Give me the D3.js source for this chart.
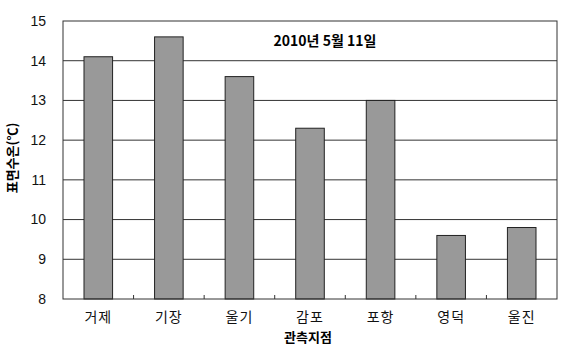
<!DOCTYPE html>
<html>
<head>
<meta charset="utf-8">
<script src="https://d3js.org/d3.v7.min.js"></script>
<style>
  body { margin: 0; background: #fff; }
  text { font-family: "Liberation Sans", "Noto Sans CJK KR", sans-serif; }
  .kr { font-family: "Noto Sans CJK KR", sans-serif; }
</style>
</head>
<body>
<div id="chart"></div>
<script>
// data
const stations = ["거제", "기장", "울기", "감포", "포항", "영덕", "울진"];
const sst = [14.1, 14.6, 13.6, 12.3, 13.0, 9.6, 9.8];
const yTicks = [8, 9, 10, 11, 12, 13, 14, 15];

const W = 567, H = 358;
const margin = {top: 21, right: 10, bottom: 59, left: 63};
const width = W - margin.left - margin.right,
      height = H - margin.top - margin.bottom;

const svg = d3.select("#chart").append("svg")
    .attr("width", W).attr("height", H);

const g = svg.append("g")
    .attr("transform", `translate(${margin.left},${margin.top})`);

const x = d3.scaleBand().domain(stations).range([0, width]).paddingInner(0.595).paddingOuter(0.2975);
const xOuter = d3.scaleBand().domain(stations).range([0, width]);
const y = d3.scaleLinear().domain([8, 15]).range([height, 0]);

// gridlines
g.selectAll(".grid").data(yTicks.slice(1, -1)).join("line")
    .attr("x1", 0).attr("x2", width)
    .attr("y1", d => y(d)).attr("y2", d => y(d))
    .attr("stroke", "#333").attr("stroke-width", 1);

// bars
g.selectAll(".bar").data(stations).join("rect")
    .attr("x", d => x(d))
    .attr("width", x.bandwidth())
    .attr("y", (d, i) => y(sst[i]))
    .attr("height", (d, i) => height - y(sst[i]))
    .attr("fill", "#999999")
    .attr("stroke", "#222").attr("stroke-width", 1);

// frame
g.append("rect").attr("width", width).attr("height", height)
    .attr("fill", "none").attr("stroke", "#333").attr("stroke-width", 1);

// x tick marks between categories (inside)
g.selectAll(".xt").data(stations.slice(1)).join("line")
    .attr("x1", d => xOuter(d)).attr("x2", d => xOuter(d))
    .attr("y1", height).attr("y2", height - 4)
    .attr("stroke", "#333");

// y labels
g.selectAll(".yl").data(yTicks).join("text")
    .attr("x", -17).attr("y", d => y(d)).attr("dy", "0.35em")
    .attr("text-anchor", "end").attr("font-size", 14)
    .attr("fill", "#111")
    .text(d => d);

// x labels
g.selectAll(".xl").data(stations).join("text")
    .attr("class", "kr")
    .attr("x", d => xOuter(d) + xOuter.bandwidth() / 2)
    .attr("y", height + 23)
    .attr("text-anchor", "middle").attr("font-size", 14)
    .attr("letter-spacing", 1)
    .attr("fill", "#111")
    .text(d => d);

// axis titles
g.append("text").attr("class", "kr")
    .attr("x", width / 2 - 2).attr("y", height + 43)
    .attr("text-anchor", "middle").attr("font-size", 13).attr("font-weight", "bold")
    .text("관측지점");

svg.append("text").attr("class", "kr")
    .attr("transform", `translate(17,${margin.top + height / 2 - 2}) rotate(-90)`)
    .attr("text-anchor", "middle").attr("font-size", 13).attr("font-weight", "bold")
    .text("표면수온(℃)");

// chart title
g.append("text").attr("class", "kr")
    .attr("x", 262).attr("y", 25)
    .attr("text-anchor", "middle").attr("font-size", 14).attr("font-weight", "bold")
    .text("2010년 5월 11일");
</script>
</body>
</html>
